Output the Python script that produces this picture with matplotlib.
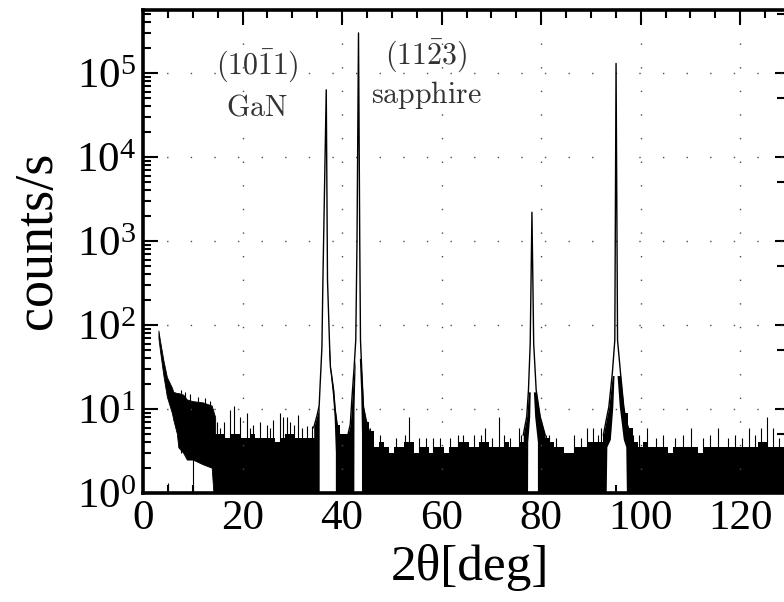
import numpy as np
import matplotlib
matplotlib.use('Agg')
import matplotlib.pyplot as plt
from matplotlib.ticker import MultipleLocator, LogLocator, FixedLocator, NullFormatter

plt.rcParams['font.family'] = ['Liberation Serif', 'DejaVu Serif']
plt.rcParams['mathtext.fontset'] = 'stix'

# ---- data ----
# low-angle tail (deg, counts/s): upper and lower edge of the noise
decay_x = [3.1, 3.4, 4.1, 4.8, 5.8, 6.1, 6.8, 7.1, 8.1, 8.8, 10.0, 12.0, 13.8, 14.5]
decay_hi = [86, 66, 38, 24, 18, 16, 15.5, 15.5, 14.8, 13, 12.4, 12, 11, 8]
decay_lo = [70, 50, 25, 14, 9, 7.4, 5.1, 3.5, 3.0, 2.5, 2.5, 2.2, 2.0, 0.5]
# spikes riding on the tail, and the single drops to zero inside it
tail_spike_x = [7.6, 8.5, 9.5, 11.0, 12.5, 13.5]
tail_spike_y = [17, 16, 15, 14, 13.5, 12.5]
drop_x = [5.1, 10.0]
drop_y = [1.3, 3.0]

# noise floor top, one value per degree from 14.5 deg on
band_start = 14.5
band_top = [5, 5, 4.5, 5, 5, 4.5, 4.5, 5, 4.5, 4.5, 4.5, 4.5, 4, 4.5, 5, 5,
            4.5, 4.5, 4.5, 4.5, 5,                      # 14.5..34.5
            7, 9, 9, 6.5, 5, 5, 6, 9, 9, 7, 5.5,        # 35.5..45.5
            3.5, 4, 3.5, 3, 3.5, 3.5, 4, 4, 3, 3.5, 3.5, 3, 3.5, 3.5, 3,
            3.5, 3.5, 4, 4, 3.5, 3.5, 4, 4, 3.5, 3.5, 3.5, 4, 3.5, 3.5,
            4, 5, 8, 8, 6, 4.5, 4, 3.5, 3.5, 3, 3, 3.5, 3.5, 3.5, 4, 4,
            4, 5, 7, 9, 9, 9, 6, 4, 3.5, 4, 3.5, 3.5, 3.5, 3.5, 3, 3.5,
            3.5, 3.5, 3.5, 3.5, 3, 3.5, 3.5, 3.5, 3.5, 3.5, 3.5, 3.5, 3.5,
            3.5, 3.5, 3.5, 4, 4, 3.5, 3.5, 3.5, 3.5, 3.5]  # 46.5..129.5

# single noise spikes on the floor (deg, counts/s)
spike_x = [14.8, 15.5, 16.2, 17.5, 18.2, 19.5, 20.9, 21.5, 22.2, 23.5, 24.9,
           25.5, 26.2, 27.6, 28.2, 28.9, 29.6, 30.3, 31.2, 31.9, 32.9, 33.9,
           45.0, 45.6, 47.7, 50.8, 52.7, 53.4, 55.5, 56.8, 58.2, 59.6, 61.7,
           63.2, 64.2, 66.6, 67.9, 68.8, 70.2, 71.6, 72.5, 73.8, 75.5, 76.0,
           80.9, 81.5, 83.0, 86.5, 88.0, 89.3, 90.5, 91.5, 92.0, 98.5, 99.6,
           101.2, 103.0, 104.5, 106.8, 108.5, 110.2, 112.5, 114.0, 115.6,
           117.5, 119.0, 120.4, 121.7, 123.0, 124.1, 125.3, 126.5, 127.8, 129.0]
spike_y = [7, 6, 7, 9.8, 11, 8, 9, 6, 6.5, 7, 6.5,
           6, 7.4, 9, 8, 8, 7, 6.5, 8.5, 6, 6.2, 6.2,
           5.9, 5.9, 4.9, 4.5, 4.9, 8.1, 4.5, 4.5, 4.5, 4.5, 4.5,
           4.9, 4.9, 4.9, 4.9, 5.9, 4.5, 8.1, 4.9, 4.5, 5.9, 4.9,
           4.9, 4.9, 4.5, 4.9, 4.5, 5.9, 5.9, 4.9, 5.9, 4.9, 4.9,
           5.9, 4.5, 4.9, 4.5, 4.9, 5.9, 4.5, 4.9, 5.9,
           4.5, 4.9, 4.5, 5.9, 4.9, 5.9, 8.1, 5.9, 4.5, 4.9]

# Bragg peaks (deg, counts/s)
gan_x = [34.3, 35.0, 35.4, 35.6, 35.8, 35.95, 36.15, 36.82, 37.07, 37.5, 37.65, 38.3, 38.6, 39.0, 39.6]
gan_y = [6, 8.5, 11, 20, 35, 55, 345, 63000, 345, 55, 32, 16.8, 10, 6.6, 4.3]
sap_x = [41.2, 41.65, 42.0, 42.4, 42.75, 43.0, 43.3, 43.55, 43.7, 44.0, 44.3, 44.8, 45.3, 45.8]
sap_y = [5, 6.6, 14, 30, 66, 1000, 300000, 1000, 66, 25, 10.6, 7.5, 5.9, 4.5]
p3_x = [76.4, 77.1, 77.45, 77.8, 78.15, 78.5, 79.0, 79.8, 80.8]
p3_y = [4.9, 8.1, 16.8, 60, 2200, 60, 16.8, 8.1, 4.9]
p4_x = [92.5, 93.2, 93.6, 94.3, 94.8, 95.05, 95.35, 95.95, 96.6, 96.9, 97.9]
p4_y = [4.9, 8.1, 10.6, 26.6, 66, 130000, 66, 26.6, 10.6, 8.1, 4.9]

# empty space under each peak, where the signal never drops to the floor
gan_gap_x = [35.5, 35.5, 35.75, 36.05, 37.35, 37.6, 38.2, 38.5, 38.75, 38.75]
gan_gap_y = [0.5, 15, 35, 60, 60, 32, 14, 8, 3, 0.5]
sap_gap_x = [42.45, 42.5, 42.8, 43.5, 43.85, 44.0, 44.0]
sap_gap_y = [0.5, 10, 50, 50, 15, 5, 0.5]
p3_gap_x = [77.35, 77.4, 77.8, 77.95, 78.45, 78.8, 79.35, 79.35]
p3_gap_y = [0.5, 4, 8, 20, 20, 8, 4, 0.5]
p4_gap_x = [93.1, 93.3, 94.0, 94.5, 94.8, 95.25, 95.8, 96.6, 97.1, 97.3]
p4_gap_y = [0.5, 3.5, 4.3, 10.6, 30, 30, 10.6, 4.3, 3.5, 0.5]

# peak, its gap, and how high the noisy black flank reaches
peaks = [(gan_x, gan_y, gan_gap_x, gan_gap_y, 50),
         (sap_x, sap_y, sap_gap_x, sap_gap_y, 40),
         (p3_x, p3_y, p3_gap_x, p3_gap_y, 16),
         (p4_x, p4_y, p4_gap_x, p4_gap_y, 25)]

fig = plt.figure(figsize=(7.84, 6.02), dpi=100)
ax = fig.add_axes([143/784, 109/602, 647/784, 483/602])
ax.set_yscale('log')
ax.set_xlim(0, 130)
ax.set_ylim(1, 10**5.75)

bx = band_start + np.arange(len(band_top) + 1)
by = band_top + [band_top[-1]]
ax.fill_between(bx, 0.5, by, step='post', color='k', lw=0, zorder=1)
ax.fill_between(decay_x, decay_lo, decay_hi, color='k', lw=0.6, zorder=1)
ax.vlines(tail_spike_x, 3, tail_spike_y, color='k', lw=0.8, zorder=1.1)
ax.vlines(drop_x, 0.5, drop_y, color='k', lw=0.8, zorder=1.1)
ax.vlines(spike_x, 0.5, spike_y, color='k', lw=0.8, zorder=1.1)

for px, py, gx, gy, cap in peaks:
    # noisy flanks hug the peak near its foot
    ax.fill_between(px, 0.5, np.minimum(py, cap), color='k', lw=0, zorder=1.15)
    ax.fill(gx, gy, color='w', lw=0, zorder=1.2)
    ax.plot(px, py, color='k', lw=1.0, zorder=2)

ax.set_axisbelow('line')
ax.grid(True, which='major', color='0.3', linestyle=(0, (1, 16)), linewidth=1.0)

ax.xaxis.set_major_locator(MultipleLocator(20))
ax.xaxis.set_minor_locator(MultipleLocator(5))
ax.yaxis.set_major_locator(LogLocator(base=10, numticks=10))
ax.yaxis.set_minor_locator(LogLocator(base=10, subs=np.arange(2, 10), numticks=20))
ax.yaxis.set_minor_formatter(NullFormatter())
ax.tick_params(which='both', direction='in', top=True, right=False, width=1.5, labelsize=31)
ax.tick_params(which='major', length=10.8)
ax.tick_params(which='minor', length=5.8)
ax.tick_params(axis='x', pad=5)
ax.tick_params(axis='y', pad=5)
for s in ax.spines.values():
    s.set_linewidth(2.6)

sec = ax.secondary_yaxis('right')
sec.yaxis.set_major_locator(FixedLocator([10.0**k for k in range(6)]))
sec.yaxis.set_minor_locator(FixedLocator([5 * 10.0**k for k in range(6)]))
sec.tick_params(which='both', direction='in', labelright=False, width=1.5)
sec.tick_params(which='major', length=10.8)
sec.tick_params(which='minor', length=9.4)
sec.spines['right'].set_linewidth(2.6)

ax.set_xlabel('2θ[deg]', fontsize=37)
ax.xaxis.set_label_coords(0.505, -0.105)
ax.set_ylabel('counts/s', fontsize=39)
ax.yaxis.set_label_coords(-0.123, 0.524)

tc = '0.2'
fs = 21.5
ax.text(22.9, 10**4.976, r'$(10\bar{1}1)$', math_fontfamily='cm', fontsize=fs,
        color=tc, ha='center', va='baseline')
ax.text(22.9, 10**4.5, r'$\mathrm{GaN}$', math_fontfamily='cm', fontsize=fs,
        color=tc, ha='center', va='baseline')
ax.text(56.9, 10**5.095, r'$(11\bar{2}3)$', math_fontfamily='cm', fontsize=fs,
        color=tc, ha='center', va='baseline')
ax.text(56.9, 10**4.643, r'$\mathrm{sapphire}$', math_fontfamily='cm', fontsize=fs,
        color=tc, ha='center', va='baseline')

fig.savefig('out.png', dpi=100)
